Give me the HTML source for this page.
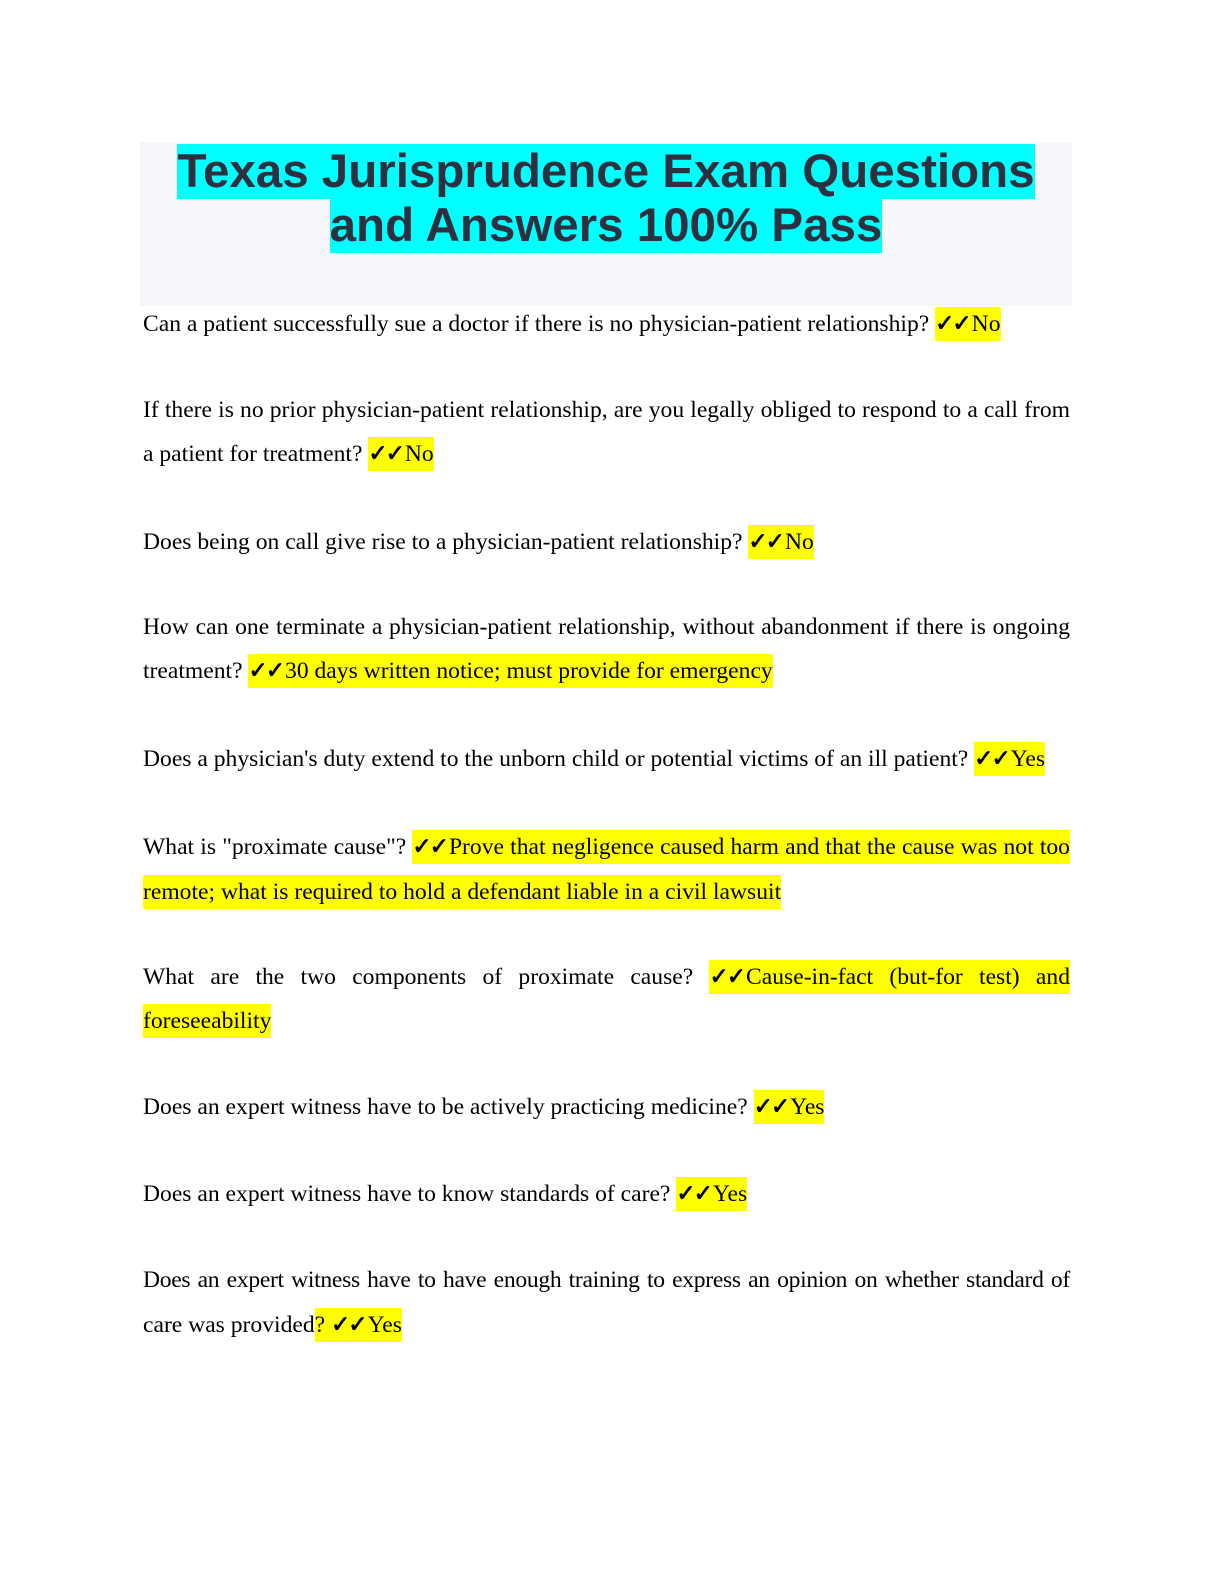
<!DOCTYPE html>
<html><head><meta charset="utf-8"><style>
body{margin:0;width:1224px;height:1584px;background:#fff;position:relative;font-family:"Liberation Serif",serif;color:#000}
.box{position:absolute;left:140px;top:142px;width:932px;height:164px;background:#f5f6fa}
.t{position:absolute;left:140px;width:932px;text-align:center;font-family:"Liberation Sans",sans-serif;font-weight:bold;font-size:47.5px;color:#2e3040;line-height:54px}
.t span{background:#00ffff;padding:1px 0}
.l{position:absolute;left:143px;width:927px;font-size:23.6px;line-height:30px;white-space:nowrap}
.j{text-align:justify;text-align-last:justify;white-space:normal}
.h{background:#ffff00;padding:4px 0}
.c{font-family:"DejaVu Sans",sans-serif;font-weight:bold;font-size:23px;display:inline-block;white-space:nowrap;letter-spacing:-2px;margin-right:2px;-webkit-text-stroke:0.8px #000}
</style></head><body>
<div class="box"></div>
<div class="t" style="top:145px"><span>Texas Jurisprudence Exam Questions</span></div>
<div class="t" style="top:199px"><span>and Answers 100% Pass</span></div>

<div class="l" style="top:309px">Can a patient successfully sue a doctor if there is no physician-patient relationship? <span class="h"><span class="c">✓✓</span>No</span></div>

<div class="l j" style="top:395px">If there is no prior physician-patient relationship, are you legally obliged to respond to a call from</div>
<div class="l" style="top:439px">a patient for treatment? <span class="h"><span class="c">✓✓</span>No</span></div>

<div class="l" style="top:527px">Does being on call give rise to a physician-patient relationship? <span class="h"><span class="c">✓✓</span>No</span></div>

<div class="l j" style="top:612px">How can one terminate a physician-patient relationship, without abandonment if there is ongoing</div>
<div class="l" style="top:656px">treatment? <span class="h"><span class="c">✓✓</span>30 days written notice; must provide for emergency</span></div>

<div class="l" style="top:744px">Does a physician's duty extend to the unborn child or potential victims of an ill patient? <span class="h"><span class="c">✓✓</span>Yes</span></div>

<div class="l j" style="top:832px">What is "proximate cause"? <span class="h"><span class="c">✓✓</span>Prove that negligence caused harm and that the cause was not too</span></div>
<div class="l" style="top:877px"><span class="h">remote; what is required to hold a defendant liable in a civil lawsuit</span></div>

<div class="l j" style="top:962px">What are the two components of proximate cause? <span class="h"><span class="c">✓✓</span>Cause-in-fact (but-for test) and</span></div>
<div class="l" style="top:1006px"><span class="h">foreseeability</span></div>

<div class="l" style="top:1092px">Does an expert witness have to be actively practicing medicine? <span class="h"><span class="c">✓✓</span>Yes</span></div>

<div class="l" style="top:1179px">Does an expert witness have to know standards of care? <span class="h"><span class="c">✓✓</span>Yes</span></div>

<div class="l j" style="top:1265px;letter-spacing:-0.3px;word-spacing:-2px">Does an expert witness have to have enough training to express an opinion on whether standard of</div>
<div class="l" style="top:1310px">care was provided<span class="h">? <span class="c">✓✓</span>Yes</span></div>
</body></html>
